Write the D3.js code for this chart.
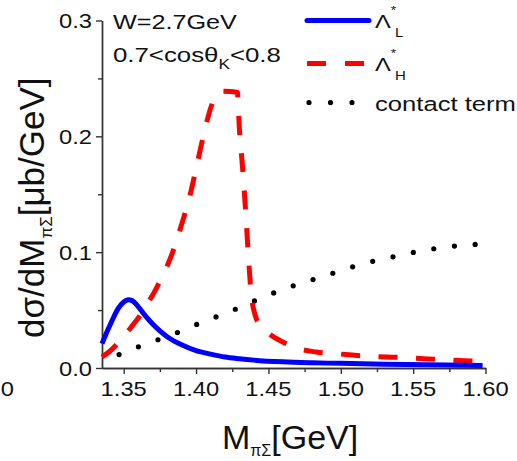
<!DOCTYPE html>
<html><head><meta charset="utf-8">
<script src="https://cdn.jsdelivr.net/npm/d3@7"></script>
<style>
body{margin:0;background:#fff}
svg{display:block}
text{font-family:"Liberation Sans",Arial,sans-serif;fill:#111}
</style>
</head><body>
<svg id="chart" width="517" height="461"></svg>
<script>
// πΣ invariant mass (GeV) and dσ/dM (μb/GeV) for each contribution
const massL = [1.335,1.338,1.342,1.346,1.350,1.353,1.356,1.360,1.365,1.370,1.375,1.380,1.390,1.400,1.410,1.420,1.430,1.440,1.460,1.480,1.500,1.530,1.560,1.598];
const xsecL = [0.021,0.030,0.041,0.051,0.057,0.059,0.058,0.053,0.045,0.038,0.032,0.027,0.020,0.015,0.012,0.0095,0.0080,0.0068,0.0053,0.0045,0.0040,0.0033,0.0028,0.0022];

const massH = [1.335,1.340,1.345,1.350,1.355,1.360,1.365,1.370,1.375,1.380,1.385,1.390,1.395,1.400,1.405,1.410,1.414,1.418,1.4285,1.430,1.432,1.434,1.436,1.438,1.441,1.445,1.450,1.460,1.470,1.483,1.500,1.520,1.540,1.560,1.585,1.598];
const xsecH = [0.0095,0.014,0.020,0.027,0.035,0.043,0.053,0.063,0.075,0.088,0.104,0.124,0.145,0.172,0.200,0.224,0.236,0.239,0.238,0.205,0.175,0.140,0.100,0.065,0.045,0.036,0.030,0.0225,0.017,0.0138,0.012,0.010,0.0092,0.0078,0.0063,0.0057];

const massC = [1.335,1.346,1.360,1.375,1.390,1.405,1.420,1.435,1.450,1.465,1.480,1.495,1.510,1.525,1.540,1.555,1.570,1.590,1.598];
const xsecC = [0.0055,0.0112,0.0182,0.025,0.032,0.040,0.047,0.055,0.063,0.070,0.076,0.082,0.088,0.093,0.097,0.101,0.104,0.1065,0.107];

const xMajor = [1.35,1.40,1.45,1.50,1.55,1.60];
const xMinor = [1.375,1.425,1.475,1.525,1.575];
const yMajor = [0.0,0.1,0.2,0.3];
const yMinor = [0.05,0.15,0.25];

const svg = d3.select("#chart");
const x = d3.scaleLinear().domain([1.335,1.60]).range([102,485.5]);
const y = d3.scaleLinear().domain([0,0.3]).range([368,20.5]);

const axisColor = "#333";
function styleAxis(g){
  g.select(".domain").attr("stroke",axisColor).attr("stroke-width",1.4);
  g.selectAll(".tick line").attr("stroke",axisColor).attr("stroke-width",1.4);
  g.selectAll(".tick text").remove();
}

// axes: minor and major ticks, labels drawn separately
const gx = svg.append("g").attr("transform","translate(0,368)");
gx.call(d3.axisBottom(x).tickValues(xMinor).tickSize(4).tickSizeOuter(0)).call(styleAxis);
gx.append("g").call(d3.axisBottom(x).tickValues(xMajor).tickSize(6).tickSizeOuter(0)).call(styleAxis);

const gy = svg.append("g").attr("transform","translate(102,0)");
gy.call(d3.axisLeft(y).tickValues(yMinor).tickSize(4).tickSizeOuter(0)).call(styleAxis);
gy.append("g").call(d3.axisLeft(y).tickValues(yMajor).tickSize(6).tickSizeOuter(0)).call(styleAxis);

const tickFont = 21, sx = 1.13;
function stretchedText(px, py, str, size, anchor, scale){
  const g = svg.append("g").attr("transform",`translate(${px},${py}) scale(${scale},1)`);
  return g.append("text").attr("font-size",size).attr("text-anchor",anchor).text(str);
}
xMajor.forEach(v => stretchedText(x(v), 396, d3.format(".2f")(v), tickFont, "middle", sx));
yMajor.forEach(v => stretchedText(92, y(v)+7.5, d3.format(".1f")(v), tickFont, "end", sx));
// label of the neighbouring panel's axis, cut by the left edge
stretchedText(14, 396, "1.60", tickFont, "end", sx);

// curves
const line = d3.line().x(d=>x(d[0])).y(d=>y(d[1])).curve(d3.curveMonotoneX);
const lambdaL = d3.zip(massL, xsecL), lambdaH = d3.zip(massH, xsecH), contact = d3.zip(massC, xsecC);

svg.append("path").attr("d", line(contact)).attr("fill","none").attr("stroke","#000")
  .attr("stroke-width",5.2).attr("stroke-linecap","round")
  .attr("stroke-dasharray","0 20.8").attr("stroke-dashoffset",2.3);
svg.append("path").attr("d", line(lambdaH)).attr("fill","none").attr("stroke","#ff0000")
  .attr("stroke-width",5).attr("stroke-dasharray","19 18.5");
svg.append("path").attr("d", line(lambdaL)).attr("fill","none").attr("stroke","#0000ff")
  .attr("stroke-width",5).attr("stroke-linejoin","round");

// annotations
function richText(px, py, size, scale, parts){
  const g = svg.append("g").attr("transform",`translate(${px},${py}) scale(${scale},1)`);
  const t = g.append("text").attr("font-size",size);
  parts.forEach(p => {
    const s = t.append("tspan").text(p.t);
    if (p.size) s.attr("font-size",p.size);
    if (p.dy) s.attr("dy",p.dy);
    if (p.dx) s.attr("dx",p.dx);
  });
  return t;
}
richText(113, 29, 21, 1.2, [{t:"W=2.7GeV"}]);
richText(113, 62, 21, 1.23, [{t:"0.7<cosθ"},{t:"K",size:14,dy:7},{t:"<0.8",dy:-7}]);

// legend
svg.append("line").attr("x1",307).attr("x2",369).attr("y1",20.5).attr("y2",20.5)
  .attr("stroke","#0000ff").attr("stroke-width",5).attr("stroke-linecap","round");
svg.append("line").attr("x1",307).attr("x2",369).attr("y1",63.5).attr("y2",63.5)
  .attr("stroke","#ff0000").attr("stroke-width",5).attr("stroke-dasharray","19 19");
svg.append("line").attr("x1",309).attr("x2",353).attr("y1",102.5).attr("y2",102.5)
  .attr("stroke","#000").attr("stroke-width",5.2).attr("stroke-linecap","round").attr("stroke-dasharray","0 21.5");
richText(375, 28, 19, 1.25, [{t:"Λ"},{t:"*",size:11,dy:-14,dx:0},{t:"L",size:12,dy:23,dx:-1}]);
richText(375, 71, 19, 1.25, [{t:"Λ"},{t:"*",size:11,dy:-14,dx:0},{t:"H",size:12,dy:23,dx:-1}]);
richText(375, 111, 20.5, 1.25, [{t:"contact term"}]);

// axis titles
richText(222, 449, 34, 1.0, [{t:"M"},{t:"πΣ",size:16,dy:7},{t:"[GeV]",dy:-7}]);
{
  const g = svg.append("g").attr("transform","translate(44,338) rotate(-90)");
  const t = g.append("text").attr("font-size",35);
  t.append("tspan").text("dσ/dM");
  t.append("tspan").text("πΣ").attr("font-size",17).attr("dy",8);
  t.append("tspan").text("[μb/GeV]").attr("dy",-8);
}
</script>
</body></html>
